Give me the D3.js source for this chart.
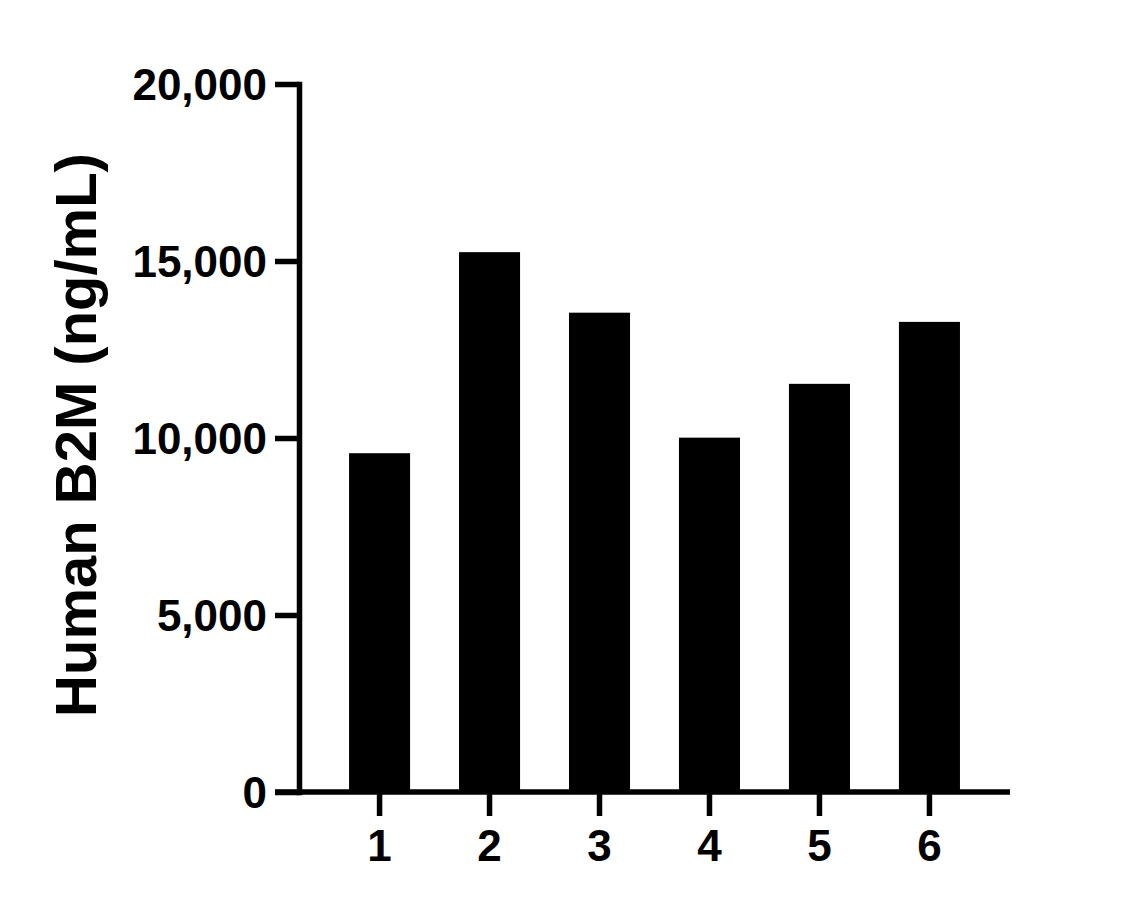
<!DOCTYPE html>
<html>
<head>
<meta charset="utf-8">
<script src="https://cdn.jsdelivr.net/npm/d3@7"></script>
<style>
  body { margin: 0; background: #fff; }
  text { font-family: "Liberation Sans", Arial, sans-serif; font-weight: bold; fill: #000; }
</style>
</head>
<body>
<svg id="chart" width="1147" height="909"></svg>
<script>
// data
var categories = ["1", "2", "3", "4", "5", "6"];
var values = [9570, 15250, 13540, 10010, 11530, 13280];
var yTicks = [0, 5000, 10000, 15000, 20000];
var yTitle = "Human B2M (ng/mL)";

var svg = d3.select("#chart");
var lineW = 5.5;
var tickLen = 24;

var x = d3.scaleBand()
    .domain(categories)
    .range([299, 1010])
    .paddingInner(0.445)
    .paddingOuter(0.455);

var y = d3.scaleLinear()
    .domain([0, 20000])
    .range([792, 84]);

// bars
svg.append("g")
    .selectAll("rect")
    .data(values)
    .enter().append("rect")
    .attr("x", function (d, i) { return x(categories[i]); })
    .attr("width", x.bandwidth())
    .attr("y", function (d) { return y(d); })
    .attr("height", function (d) { return y(0) - y(d); })
    .attr("fill", "#000");

// y axis
var yAxis = svg.append("g")
    .attr("transform", "translate(299,0)")
    .call(d3.axisLeft(y).tickValues(yTicks).tickSize(tickLen).tickSizeOuter(0)
        .tickPadding(8).tickFormat(d3.format(",")));

yAxis.select(".domain")
    .attr("stroke", "#000")
    .attr("stroke-width", lineW)
    .attr("stroke-linecap", "square");
yAxis.selectAll(".tick line")
    .attr("stroke", "#000")
    .attr("stroke-width", lineW);
yAxis.selectAll(".tick text")
    .style("font-size", "44px")
    .attr("dy", "0.36em");

// x axis
var xAxis = svg.append("g")
    .attr("transform", "translate(0," + y(0) + ")")
    .call(d3.axisBottom(x).tickSize(tickLen).tickSizeOuter(0).tickPadding(10));

xAxis.select(".domain").remove();
xAxis.append("line")
    .attr("x1", 299 - tickLen)
    .attr("x2", 1010)
    .attr("stroke", "#000")
    .attr("stroke-width", lineW);
xAxis.selectAll(".tick line")
    .attr("stroke", "#000")
    .attr("stroke-width", lineW);
xAxis.selectAll(".tick text")
    .style("font-size", "44px")
    .attr("dy", "0.8em");

// y title
svg.append("text")
    .attr("transform", "translate(96," + (y(10000) - 3) + ") rotate(-90)")
    .attr("text-anchor", "middle")
    .style("font-size", "58px")
    .text(yTitle);
</script>
</body>
</html>
